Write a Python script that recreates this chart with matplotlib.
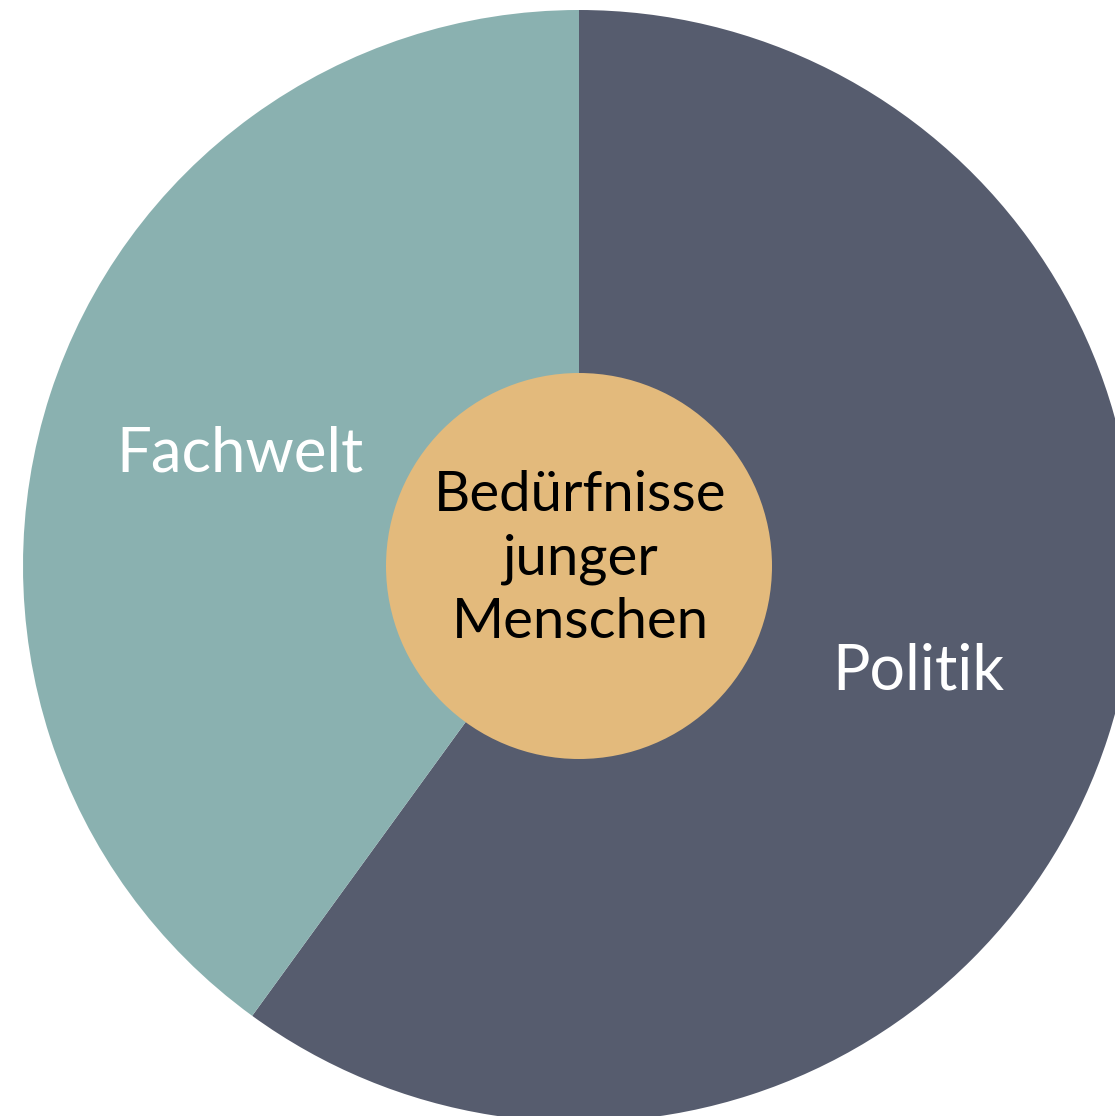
import matplotlib.pyplot as plt
from matplotlib.patches import Circle

labels = ['Politik', 'Fachwelt']
shares = [60, 40]
colors = ['#565C6E', '#8AB1B0']
center_text = 'Bedürfnisse\njunger\nMenschen'

W, H = 1115, 1116
fig = plt.figure(figsize=(W / 100, H / 100), dpi=100)
ax = fig.add_axes([0, 0, 1, 1])

cx, cy, r = 579, H - 566, 556
ax.pie(shares, colors=colors, startangle=90, counterclock=False,
       center=(cx, cy), radius=r, frame=True,
       wedgeprops=dict(linewidth=0))

ax.add_patch(Circle((cx, cy), 193, facecolor='#E3BA7C', edgecolor='none', zorder=3))

font = ['Lato', 'DejaVu Sans']
ax.text(240, H - 454, 'Fachwelt', color='white', fontsize=44.5, family=font,
        ha='center', va='center', zorder=4)
ax.text(918, H - 672, 'Politik', color='white', fontsize=45, family=font,
        ha='center', va='center', zorder=4)
ax.text(580, H - 559, center_text, color='black', fontsize=40.5, family=font,
        ha='center', va='center', linespacing=1.3, zorder=4)

ax.set_xlim(0, W)
ax.set_ylim(0, H)
ax.set_aspect('equal')
ax.axis('off')

fig.savefig('out.png', dpi=100)
